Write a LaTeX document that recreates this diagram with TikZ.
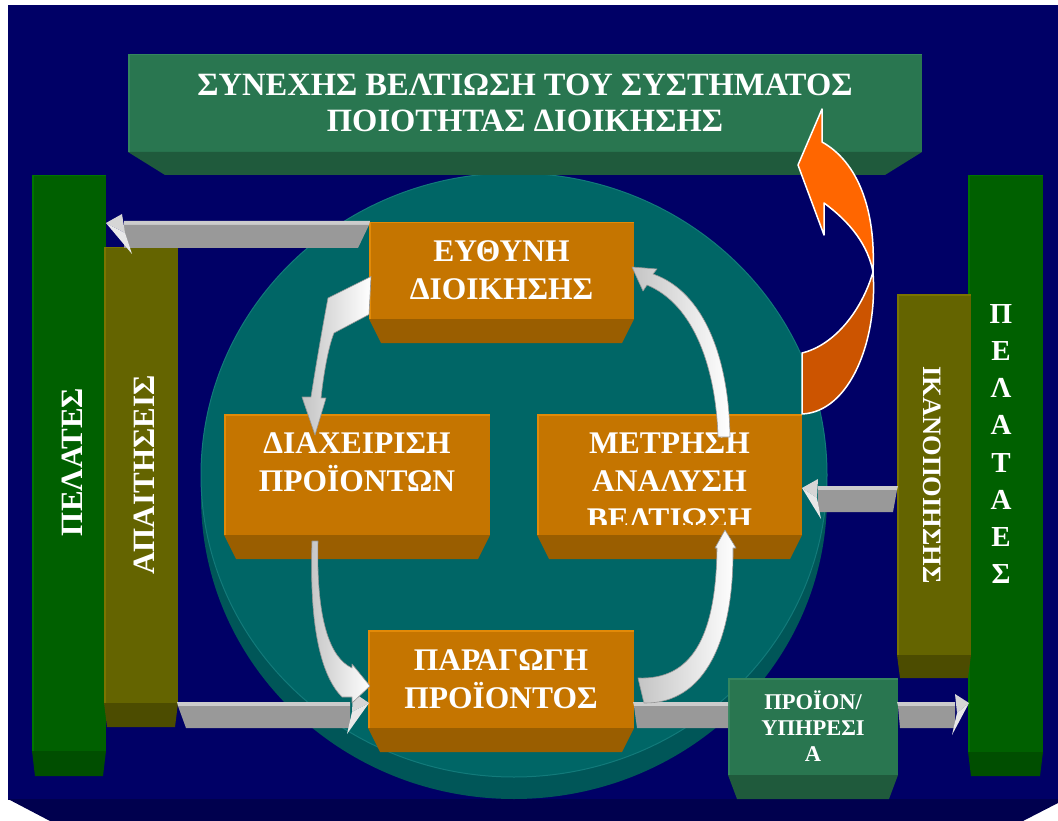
\documentclass[tikz,border=0pt]{standalone}
\usepackage{fontspec}
\setmainfont{Liberation Serif}
\usetikzlibrary{calc}

\definecolor{navy}{RGB}{0,0,102}
\definecolor{navyside}{RGB}{0,0,78}
\definecolor{discTop}{RGB}{0,102,102}
\definecolor{discSide}{RGB}{0,86,88}
\definecolor{discRim}{RGB}{18,122,122}
\definecolor{ofront}{RGB}{197,117,0}
\definecolor{oside}{RGB}{154,94,0}
\definecolor{orim}{RGB}{226,138,8}
\definecolor{tgreen}{RGB}{41,118,80}
\definecolor{tgreenside}{RGB}{31,90,60}
\definecolor{tgreenrim}{RGB}{52,134,94}
\definecolor{bgreen}{RGB}{0,96,0}
\definecolor{bgreenside}{RGB}{0,78,0}
\definecolor{bgreenrim}{RGB}{0,116,0}
\definecolor{olivebar}{RGB}{100,100,0}
\definecolor{oliveside}{RGB}{76,76,0}
\definecolor{oliverim}{RGB}{122,116,0}
\definecolor{shaftfront}{RGB}{153,153,153}
\definecolor{shafttop}{RGB}{204,204,204}
\definecolor{headlight}{RGB}{214,214,214}
\definecolor{headpale}{RGB}{232,232,232}
\definecolor{ribbonshade}{RGB}{196,196,196}
\definecolor{ribbonedge}{RGB}{150,150,150}
\definecolor{arrowhi}{RGB}{255,102,0}
\definecolor{arrowlo}{RGB}{204,84,0}

% bottom face of a slab, seen in perspective below its front face
\newcommand{\extrude}[4]{%
  \fill[#4] (#1.south west) -- (#1.south east)
    -- ([xshift=-#2pt,yshift=-#3pt]#1.south east)
    -- ([xshift=#2pt,yshift=-#3pt]#1.south west) -- cycle;}
% lighter rim along the left and top edges of a slab
\newcommand{\rim}[2]{%
  \draw[#2, line width=1.5pt] ([xshift=0.75pt]#1.south west)
    -- ([xshift=0.75pt,yshift=-0.75pt]#1.north west)
    -- ([yshift=-0.75pt]#1.north east);}

\begin{document}
\begin{tikzpicture}[x=1pt,y=-1pt,
  slab/.style={rectangle, inner sep=0pt, outer sep=0pt},
  words/.style={inner sep=0pt, outer sep=0pt, text=white, align=center},
  box/.style={slab, fill=ofront, text=white, align=center,
    font=\fontsize{31.5}{38}\selectfont\bfseries},
  boxwords/.style={words, font=\fontsize{31.5}{38}\selectfont\bfseries},
  barwords/.style={words, font=\fontsize{31}{31}\selectfont\bfseries},
  shaftlid/.style={fill=shafttop},
  shaftface/.style={fill=shaftfront},
  tiplight/.style={fill=headlight},
  tippale/.style={fill=headpale},
  ribbon/.style={left color=ribbonshade, right color=white, draw=ribbonedge,
    line width=0.6pt, line join=round},
  swoop/.style={draw=white, line width=1.5pt, line join=round}
]
\useasboundingbox (0,0) rectangle (1058,821);
\fill[white] (0,0) rectangle (1058,821);

% backdrop plate
\fill[navy] (8,5) rectangle (1058,800);
\fill[navyside] (8,799) -- (1058,799) -- (1058,803) -- (1023,821) -- (50,821) -- cycle;

% the disc
\fill[discSide] (514,497) ellipse [x radius=313, y radius=302];
\fill[discTop] (514,475) ellipse [x radius=313, y radius=302];
\draw[discRim, line width=1pt] (514,475) ellipse [x radius=313, y radius=302];

% title slab
\node[slab, fill=tgreen, minimum width=794, minimum height=98, text=white, align=center,
  font=\fontsize{32.5}{36}\selectfont\bfseries] (title) at (525,103)
  {ΣΥΝΕΧΗΣ ΒΕΛΤΙΩΣΗ ΤΟΥ ΣΥΣΤΗΜΑΤΟΣ\\ΠΟΙΟΤΗΤΑΣ ΔΙΟΙΚΗΣΗΣ};
\extrude{title}{37}{23}{tgreenside}
\rim{title}{tgreenrim}

% left columns
\node[slab, fill=bgreen, minimum width=74, minimum height=576] (pl) at (69,463) {};
\extrude{pl}{3}{25}{bgreenside}
\rim{pl}{bgreenrim}
\node[barwords, rotate=90] (pltxt) at (72.5,462) {ΠΕΛΑΤΕΣ};
\node[slab, fill=olivebar, minimum width=74, minimum height=456] (ap) at (141,475) {};
\extrude{ap}{3}{24}{oliveside}
\rim{ap}{oliverim}
\node[barwords, rotate=90] (aptxt) at (144.5,475) {ΑΠΑΙΤΗΣΕΙΣ};

% right columns
\node[slab, fill=bgreen, minimum width=75, minimum height=577] (pr) at (1005.5,463.5) {};
\extrude{pr}{3}{24}{bgreenside}
\rim{pr}{bgreenrim}
\node[words, font=\fontsize{29}{37.2}\selectfont\bfseries] (prtxt) at (1001,444)
  {Π\\Ε\\Λ\\Α\\Τ\\Α\\Ε\\Σ};
\node[slab, fill=olivebar, minimum width=74, minimum height=361] (ik) at (934,474.5) {};
\extrude{ik}{3}{23}{oliveside}
\rim{ik}{oliverim}
\node[words, rotate=-90, font=\fontsize{26.5}{26.5}\selectfont\bfseries] (iktxt) at (932.5,475)
  {ΙΚΑΝΟΠΟΙΗΣΗΣ};

% process boxes
\node[box, minimum width=265, minimum height=97] (eu) at (501.5,270.5) {ΕΥΘΥΝΗ\\ΔΙΟΙΚΗΣΗΣ};
\extrude{eu}{12}{24}{oside}
\rim{eu}{orim}

\node[box, minimum width=266, minimum height=121] (dia) at (357,474.5) {};
\extrude{dia}{12}{24}{oside}
\rim{dia}{orim}
\node[boxwords, anchor=north] (diatxt) at (357,433) {ΔΙΑΧΕΙΡΙΣΗ\\ΠΡΟΪΟΝΤΩΝ};

\node[box, minimum width=265, minimum height=121] (met) at (669.5,474.5) {};
\extrude{met}{12}{24}{oside}
\rim{met}{orim}
\begin{scope}
  \clip (met.north west) rectangle ($(met.east)+(0,49.5)$);
  \node[boxwords, anchor=north] (mettxt) at (669.5,433) {ΜΕΤΡΗΣΗ\\ΑΝΑΛΥΣΗ\\ΒΕΛΤΙΩΣΗ};
\end{scope}

\node[box, minimum width=266, minimum height=98] (par) at (501,679) {ΠΑΡΑΓΩΓΗ\\ΠΡΟΪΟΝΤΟΣ};
\extrude{par}{12}{24}{oside}
\rim{par}{orim}

\node[slab, fill=tgreen, minimum width=170, minimum height=97, text=white, align=center,
  font=\fontsize{22.5}{26}\selectfont\bfseries] (pro) at (813,726.5) {ΠΡΟΪΟΝ/\\ΥΠΗΡΕΣΙ\\Α};
\extrude{pro}{9}{24}{tgreenside}
\rim{pro}{tgreenrim}

% block arrow: management -> customers (left)
\coordinate (a1tip) at ($(pl.east |- eu.north)+(0,1)$);
\coordinate (a1end) at ($(eu.north west)+(1,-1)$);
\fill[shaftlid] (a1end) -- ++(-246,0) -- ++(0,4) -- ++(245,0) -- cycle;
\fill[shaftface] ($(a1end)+(-1,4)$) -- ++(-245,0) -- ++(0,23) -- ++(234,0) -- cycle;
\fill[tiplight] (a1tip) -- ++(16,-9) -- ++(3,19) -- cycle;
\fill[tippale] (a1tip) -- ++(19,10) -- ++(7,21) -- cycle;

% block arrow: requirements -> production
\coordinate (a2tip) at ($(par.west)+(1,24)$);
\coordinate (a2end) at ($(ap.east |- a2tip)+(-1,-1)$);
\fill[shaftlid] (a2end) -- ++(173,0) -- ++(0,4) -- ++(-172,0) -- cycle;
\fill[shaftface] ($(a2end)+(1,4)$) -- ++(172,0) -- ++(0,22) -- ++(-164,0) -- cycle;
\fill[tiplight] (a2tip) -- ++(-16,-11) -- ++(-1,20) -- cycle;
\fill[tippale] (a2tip) -- ++(-17,9) -- ++(-5,22) -- cycle;

% block arrow: production -> product / service
\coordinate (a3s) at ($(par.east)+(-1,23)$);
\fill[shaftlid] (a3s) -- (a3s -| pro.west) -- ++(0,4) -- ($(a3s)+(1,4)$) -- cycle;
\fill[shaftface] ($(a3s)+(1,4)$) -- ($(a3s -| pro.west)+(0,4)$) -- ++(0,22) -- ($(a3s)+(4,26)$) -- cycle;

% block arrow: product / service -> customers (right)
\coordinate (a4s) at ($(pro.east)+(-1,-24.5)$);
\coordinate (a4tip) at ($(pr.west |- a4s)+(1,1)$);
\fill[shaftlid] (a4s) -- ++(58,0) -- ++(0,4) -- ++(-57,0) -- cycle;
\fill[shaftface] ($(a4s)+(1,4)$) -- ++(57,0) -- ++(0,22) -- ++(-55,0) -- cycle;
\fill[tiplight] (a4tip) -- ++(-14,-9) -- ++(2,19) -- cycle;
\fill[tippale] (a4tip) -- ++(-12,10) -- ++(-5,22) -- cycle;

% block arrow: satisfaction -> measurement
\coordinate (a5s) at ($(ik.west)+(1,11.5)$);
\coordinate (a5tip) at ($(met.east |- a5s)+(0,2)$);
\fill[shaftlid] (a5s) -- ++(-80,0) -- ++(0,4) -- ++(79,0) -- cycle;
\fill[shaftface] ($(a5s)+(-1,4)$) -- ++(-79,0) -- ++(0,22) -- ++(75,0) -- cycle;
\fill[tiplight] (a5tip) -- ++(16,-9) -- ++(-1,19) -- cycle;
\fill[tippale] (a5tip) -- ++(15,10) -- ++(4,21) -- cycle;

% ribbon: management -> product handling
\coordinate (r1a) at ($(eu.west)+(2,6)$);
\path[ribbon] (r1a) -- (328,298) .. controls (322,330) and (316,365) .. (311,397)
  -- (302,397) -- (315,435) -- (326,398) -- (321,398)
  .. controls (324,370) and (329,345) .. (334,333) -- ($(eu.west)+(0,44)$) -- cycle;

% ribbon: product handling -> production
\coordinate (r2a) at ($(dia.south)+(-45,6)$);
\path[ribbon] (r2a) -- ++(6,0) .. controls (316,620) and (330,658) .. (352,668)
  -- (352,664) -- ($(par.west)+(2,7)$) -- (352,703) -- (352,697) -- (342,697)
  .. controls (322,677) and (309,630) .. (r2a) -- cycle;

% ribbon: production -> measurement
\coordinate (r3a) at ($(par.east)+(4,-1)$);
\path[ribbon] (r3a) .. controls (690,680) and (716,640) .. (717,548)
  -- (715,548) -- ($(met.south)+(55.5,-5)$) -- (736,548) -- (733,548)
  .. controls (734,640) and (705,704) .. (644,703) -- cycle;

% ribbon: measurement -> management
\coordinate (r4a) at ($(met.north)+(48.5,23)$);
\path[ribbon] (r4a) .. controls (716,370) and (695,305) .. (647,285)
  -- (643,291) -- ($(eu.east)+(-2,-3.5)$) -- (657,269) -- (653,274)
  .. controls (705,292) and (729,360) .. (730,437) -- cycle;

% curved arrow: measurement -> continual improvement
\coordinate (c0) at (met.north east);
\path[swoop, fill=arrowlo] (c0) -- (802,353)
  .. controls (835,345) and (862,310) .. (873,272)
  .. controls (878,340) and (850,412) .. (c0) -- cycle;
\path[swoop, fill=arrowhi] (822,109) -- (798,165) -- (824,235) -- (824,203)
  .. controls (850,222) and (868,245) .. (873,272)
  .. controls (876,210) and (858,162) .. (822,142) -- cycle;
\end{tikzpicture}
\end{document}
